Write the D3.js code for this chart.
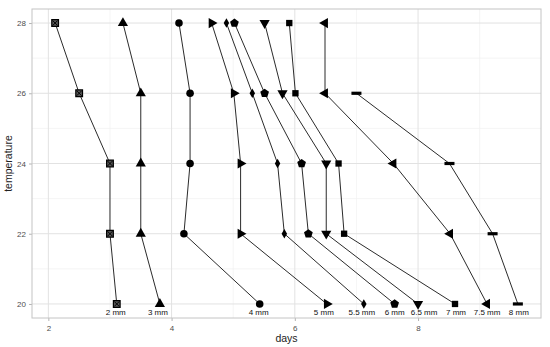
<!DOCTYPE html>
<html>
<head>
<meta charset="utf-8">
<script src="https://cdn.jsdelivr.net/npm/d3@7"></script>
<style>
  body { margin: 0; background: #fff; }
  text { font-family: "Liberation Sans", Arial, sans-serif; }
</style>
</head>
<body>
<div id="chart"></div>
<script>
// data
var temps = [20, 22, 24, 26, 28];
var sizes = ["2 mm", "3 mm", "4 mm", "5 mm", "5.5 mm", "6 mm", "6.5 mm", "7 mm", "7.5 mm", "8 mm"];
// days for temps 20,22,24,26,28
var d2   = [3.11, 3.00, 3.00, 2.50, 2.11];
var d3_  = [3.81, 3.50, 3.50, 3.50, 3.21];
var d4   = [5.43, 4.20, 4.30, 4.30, 4.12];
var d5   = [6.52, 5.12, 5.12, 5.01, 4.65];
var d55  = [7.12, 5.83, 5.72, 5.31, 4.89];
var d6   = [7.62, 6.22, 6.11, 5.51, 5.02];
var d65  = [8.00, 6.51, 6.51, 5.80, 5.51];
var d7   = [8.60, 6.80, 6.71, 6.01, 5.91];
var d75  = [9.12, 8.52, 7.60, 6.49, 6.49];
var d8   = [9.62, 9.21, 8.51, 7.00, null];
var daysBySize = [d2, d3_, d4, d5, d55, d6, d65, d7, d75, d8];
var xTicks = [2, 4, 6, 8];
var yTicks = [20, 22, 24, 26, 28];

var W = 550, H = 347;
var panel = {left: 32, right: 541, top: 9, bottom: 318};
// label pixel nudges (repelled labels in the original)
var labelDx = [-1, -2, -1, -3, -2, 0, 6, 1, 0, 1];

var series = sizes.map(function(s, i) {
  return {
    size: s,
    i: i,
    pts: temps.map(function(t, j) { return {t: t, d: daysBySize[i][j]}; })
              .filter(function(p) { return p.d != null; })
  };
});

var allDays = [].concat.apply([], daysBySize).filter(function(v) { return v != null; });
var ext = d3.extent(allDays);
var padX = (ext[1] - ext[0]) * 0.05;
var padY = (28 - 20) * 0.05;

var x = d3.scaleLinear().domain([ext[0] - padX, ext[1] + padX]).range([panel.left, panel.right]);
var y = d3.scaleLinear().domain([20 - padY, 28 + padY]).range([panel.bottom, panel.top]);

var svg = d3.select("#chart").append("svg")
    .attr("width", W)
    .attr("height", H);

// minor grid
svg.append("g").selectAll("line")
    .data([1, 3, 5, 7, 9].filter(function(v) { return x(v) > panel.left && x(v) < panel.right; }))
    .enter().append("line")
    .attr("x1", function(d) { return x(d); }).attr("x2", function(d) { return x(d); })
    .attr("y1", panel.top).attr("y2", panel.bottom)
    .style("stroke", "#f0f0f0").style("stroke-width", 0.7);
svg.append("g").selectAll("line")
    .data([21, 23, 25, 27])
    .enter().append("line")
    .attr("y1", function(d) { return y(d); }).attr("y2", function(d) { return y(d); })
    .attr("x1", panel.left).attr("x2", panel.right)
    .style("stroke", "#f0f0f0").style("stroke-width", 0.7);

// major grid
svg.append("g").selectAll("line")
    .data(xTicks)
    .enter().append("line")
    .attr("x1", function(d) { return x(d); }).attr("x2", function(d) { return x(d); })
    .attr("y1", panel.top).attr("y2", panel.bottom)
    .style("stroke", "#e2e2e2").style("stroke-width", 1);
svg.append("g").selectAll("line")
    .data(yTicks)
    .enter().append("line")
    .attr("y1", function(d) { return y(d); }).attr("y2", function(d) { return y(d); })
    .attr("x1", panel.left).attr("x2", panel.right)
    .style("stroke", "#e2e2e2").style("stroke-width", 1);

// axes
var xAxis = svg.append("g")
    .attr("transform", "translate(0," + panel.bottom + ")")
    .call(d3.axisBottom(x).tickValues(xTicks).tickSize(3).tickPadding(4));
var yAxis = svg.append("g")
    .attr("transform", "translate(" + panel.left + ",0)")
    .call(d3.axisLeft(y).tickValues(yTicks).tickSize(3).tickPadding(3));
[xAxis, yAxis].forEach(function(a) {
  a.select(".domain").remove();
  a.selectAll(".tick line").style("stroke", "#b3b3b3");
  a.selectAll(".tick text").style("fill", "#4d4d4d").style("font-size", "8px")
   .style("font-family", "'Liberation Sans', Arial, sans-serif");
});

// panel border
svg.append("rect")
    .attr("x", panel.left).attr("y", panel.top)
    .attr("width", panel.right - panel.left).attr("height", panel.bottom - panel.top)
    .style("fill", "none").style("stroke", "#c4c4c4").style("stroke-width", 1);

// lines
var line = d3.line()
    .x(function(p) { return x(p.d); })
    .y(function(p) { return y(p.t); });

svg.append("g").selectAll("path")
    .data(series)
    .enter().append("path")
    .attr("d", function(s) { return line(s.pts); })
    .style("fill", "none")
    .style("stroke", "#2b2b2b")
    .style("stroke-width", 1);

// shapes
var pentagon = {
  draw: function(ctx, size) {
    var r = Math.sqrt(size / 2.378);
    for (var k = 0; k < 5; k++) {
      var a = -Math.PI / 2 + k * 2 * Math.PI / 5;
      if (k === 0) ctx.moveTo(r * Math.cos(a), r * Math.sin(a));
      else ctx.lineTo(r * Math.cos(a), r * Math.sin(a));
    }
    ctx.closePath();
  }
};
var dash = {
  draw: function(ctx, size) {
    ctx.rect(-5, -1.6, 10, 3.2);
  }
};
var shapeInfo = [
  {type: d3.symbolSquare, size: 45, rot: 0, cross: true},
  {type: d3.symbolTriangle, size: 45, rot: 0},
  {type: d3.symbolCircle, size: 45, rot: 0},
  {type: d3.symbolTriangle, size: 45, rot: 90},
  {type: d3.symbolDiamond, size: 26, rot: 0},
  {type: pentagon, size: 50, rot: 0},
  {type: d3.symbolTriangle, size: 45, rot: 180},
  {type: d3.symbolSquare, size: 40, rot: 0},
  {type: d3.symbolTriangle, size: 45, rot: 270},
  {type: dash, size: 30, rot: 0}
];

series.forEach(function(s, i) {
  var info = shapeInfo[i];
  var g = svg.append("g");
  var pts = g.selectAll(".pt")
      .data(s.pts)
      .enter().append("g")
      .attr("transform", function(p) {
        return "translate(" + x(p.d) + "," + y(p.t) + ") rotate(" + info.rot + ")";
      });
  pts.append("path")
      .attr("d", d3.symbol().type(info.type).size(info.size))
      .style("fill", info.cross ? "#555" : "#000")
      .style("stroke", info.cross ? "#000" : "none")
      .style("stroke-width", info.cross ? 1.2 : 0);
  if (info.cross) {
    pts.append("path")
        .attr("d", "M-2.5,-2.5L2.5,2.5M-2.5,2.5L2.5,-2.5")
        .style("stroke", "#000").style("stroke-width", 1);
  }
});

// size labels at 20 degrees
svg.append("g").selectAll("text")
    .data(series)
    .enter().append("text")
    .attr("x", function(s) { return x(s.pts[0].d) + labelDx[s.i]; })
    .attr("y", function(s) { return y(s.pts[0].t) + 11; })
    .attr("text-anchor", "middle")
    .style("font-size", "8px")
    .style("fill", "#111")
    .text(function(s) { return s.size; });

// axis titles
svg.append("text")
    .attr("x", (panel.left + panel.right) / 2)
    .attr("y", 342)
    .attr("text-anchor", "middle")
    .style("font-size", "10.5px")
    .style("fill", "#222")
    .text("days");

svg.append("text")
    .attr("transform", "translate(12," + ((panel.top + panel.bottom) / 2) + ") rotate(-90)")
    .attr("text-anchor", "middle")
    .style("font-size", "10.5px")
    .style("fill", "#222")
    .text("temperature");
</script>
</body>
</html>
